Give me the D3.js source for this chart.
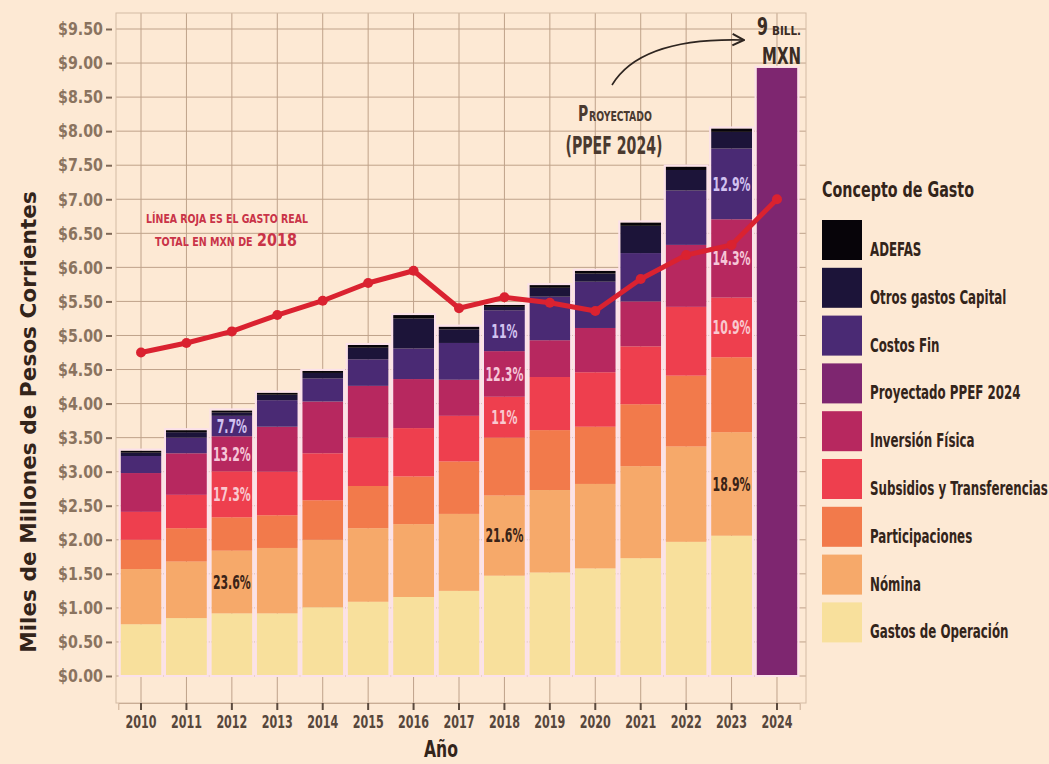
<!DOCTYPE html>
<html lang="es">
<head>
<meta charset="utf-8">
<title>Gasto público por concepto 2010-2024</title>
<script src="https://cdn.jsdelivr.net/npm/d3@7"></script>
<style>
  html, body { margin: 0; padding: 0; background: #fde9d4; }
  svg { display: block; }
</style>
</head>
<body>
<svg id="chart" width="1049" height="764"></svg>
<script>
// Años del eje x
const years = [2010, 2011, 2012, 2013, 2014, 2015, 2016, 2017, 2018, 2019, 2020, 2021, 2022, 2023, 2024];

// Gasto por concepto, miles de millones de pesos corrientes (billones)
const gastosOperacion   = [0.76, 0.85, 0.92, 0.92, 1.01, 1.09, 1.16, 1.25, 1.473, 1.52, 1.58, 1.73, 1.97, 2.06, 0];
const nomina            = [0.81, 0.83, 0.92, 0.96, 0.99, 1.08, 1.07, 1.13, 1.177, 1.21, 1.24, 1.35, 1.40, 1.52, 0];
const participaciones   = [0.43, 0.49, 0.49, 0.48, 0.58, 0.62, 0.70, 0.77, 0.85, 0.88, 0.84, 0.91, 1.04, 1.10, 0];
const subsidios         = [0.41, 0.49, 0.675, 0.64, 0.69, 0.71, 0.71, 0.67, 0.60, 0.78, 0.80, 0.85, 1.01, 0.876, 0];
const inversionFisica   = [0.57, 0.61, 0.515, 0.66, 0.76, 0.76, 0.72, 0.53, 0.67, 0.54, 0.65, 0.66, 0.91, 1.15, 0];
const proyectadoPPEF    = [0, 0, 0, 0, 0, 0, 0, 0, 0, 0, 0, 0, 0, 0, 8.93];
const costosFin         = [0.25, 0.23, 0.30, 0.39, 0.34, 0.39, 0.45, 0.54, 0.60, 0.64, 0.68, 0.71, 0.80, 1.04, 0];
const otrosCapital      = [0.05, 0.08, 0.05, 0.08, 0.08, 0.17, 0.44, 0.20, 0.05, 0.13, 0.12, 0.40, 0.30, 0.244, 0];
const adefas            = [0.03, 0.03, 0.03, 0.03, 0.03, 0.04, 0.05, 0.04, 0.03, 0.04, 0.04, 0.05, 0.05, 0.05, 0];

// Gasto real total en pesos de 2018 (línea roja)
const gastoReal2018 = [4.75, 4.89, 5.06, 5.30, 5.51, 5.77, 5.95, 5.40, 5.56, 5.48, 5.36, 5.83, 6.18, 6.33, 7.00];

// Conceptos, de abajo hacia arriba en la pila
const seriesKeys   = ["op", "nom", "part", "sub", "inv", "proy", "cf", "otros", "adefas"];
const seriesNames  = ["Gastos de Operación", "Nómina", "Participaciones", "Subsidios y Transferencias",
                      "Inversión Física", "Proyectado PPEF 2024", "Costos Fin", "Otros gastos Capital", "ADEFAS"];
const seriesValues = [gastosOperacion, nomina, participaciones, subsidios,
                      inversionFisica, proyectadoPPEF, costosFin, otrosCapital, adefas];
const seriesColors = ["#f8e09c", "#f6a96a", "#f27a4b", "#ee3f4e", "#b7285f", "#7e2670", "#4a2a74", "#1c1439", "#070409"];

// Porcentajes rotulados sobre las barras
const pctYears  = [2012, 2012, 2012, 2012, 2018, 2018, 2018, 2018, 2023, 2023, 2023, 2023];
const pctSeries = ["cf", "inv", "sub", "nom", "cf", "inv", "sub", "nom", "cf", "inv", "sub", "nom"];
const pctText   = ["7.7%", "13.2%", "17.3%", "23.6%", "11%", "12.3%", "11%", "21.6%", "12.9%", "14.3%", "10.9%", "18.9%"];

// Marcas del eje y
const yTicks = d3.range(0, 9.51, 0.5);

const FONT = "'Liberation Sans Narrow','DejaVu Sans Condensed','Roboto Condensed',sans-serif";
const BG = "#fde9d4";

// La tipografía es muy condensada: se estrecha cada texto en horizontal
// alrededor de su punto de anclaje.
function scaleX(node, k) {
  const ax = +node.getAttribute("x") || 0;
  const prev = node.getAttribute("transform") || "";
  node.setAttribute("transform", `${prev} translate(${ax},0) scale(${k},1) translate(${-ax},0)`.trim());
}
function squeeze(sel, k) { sel.each(function () { scaleX(this, k); }); }
function fitWidth(node, width) { scaleX(node, width / node.getComputedTextLength()); }
function factorFor(sel, sampleText, width) {
  const node = sel.filter(function () { return this.textContent === sampleText; }).node() || sel.node();
  return width / node.getComputedTextLength();
}
// Texto en dos partes con tamaños distintos, estrechado como un bloque
function twoPart(parent, cx, baseline, width, a, sizeA, b, sizeB, gap) {
  const g = parent.append("g");
  const t1 = g.append("text").attr("x", 0).attr("y", 0).attr("font-size", sizeA).text(a);
  const w1 = t1.node().getComputedTextLength();
  const t2 = g.append("text").attr("x", w1 + gap).attr("y", 0).attr("font-size", sizeB).text(b);
  const total = w1 + gap + t2.node().getComputedTextLength();
  const k = width / total;
  g.attr("transform", `translate(${cx - width / 2},${baseline}) scale(${k},1)`);
  return g;
}

const svg = d3.select("#chart");
svg.append("rect").attr("width", 1049).attr("height", 764).attr("fill", BG);

// Marco del área de trazado
const frame = { left: 116, right: 806, top: 13, bottom: 703 };

const x = d3.scaleBand()
  .domain(years)
  .range([118.3, 799.7])
  .paddingInner(0.1)
  .paddingOuter(0.05);

const y = d3.scaleLinear().domain([0, 9.5]).range([676, 29]);

// Tabla para d3.stack
const table = years.map((yr, i) => {
  const row = { year: yr };
  seriesKeys.forEach((k, j) => { row[k] = seriesValues[j][i]; });
  return row;
});
const stacked = d3.stack().keys(seriesKeys)(table);
const colorOf = d3.scaleOrdinal().domain(seriesKeys).range(seriesColors);

// Cuadrícula
const grid = svg.append("g").attr("class", "grid");
grid.selectAll("line.h").data(yTicks).join("line")
  .attr("class", "h")
  .attr("x1", frame.left).attr("x2", frame.right)
  .attr("y1", d => y(d)).attr("y2", d => y(d))
  .attr("stroke", "#bfa28a").attr("stroke-width", 1);
grid.selectAll("line.v").data(years).join("line")
  .attr("class", "v")
  .attr("x1", d => x(d) + x.bandwidth() / 2).attr("x2", d => x(d) + x.bandwidth() / 2)
  .attr("y1", frame.top).attr("y2", frame.bottom)
  .attr("stroke", "#bfa28a").attr("stroke-width", 1);
svg.append("rect")
  .attr("x", frame.left).attr("y", frame.top)
  .attr("width", frame.right - frame.left).attr("height", frame.bottom - frame.top)
  .attr("fill", "none").attr("stroke", "#d4bba4").attr("stroke-width", 1);

// Barras apiladas
const bars = svg.append("g").attr("class", "bars");
bars.selectAll("g").data(stacked).join("g")
  .attr("fill", d => colorOf(d.key))
  .selectAll("rect").data(d => d.filter(s => s[1] - s[0] > 0)).join("rect")
  .attr("x", d => x(d.data.year))
  .attr("width", x.bandwidth())
  .attr("y", d => y(d[1]))
  .attr("height", d => y(d[0]) - y(d[1]));

// Contorno claro de cada barra
const totals = table.map(r => seriesKeys.reduce((s, k) => s + r[k], 0));
bars.append("g").selectAll("rect").data(years).join("rect")
  .attr("x", d => x(d) - 1)
  .attr("width", x.bandwidth() + 2)
  .attr("y", (d, i) => y(totals[i]) - 1)
  .attr("height", (d, i) => y(0) - y(totals[i]) + 1)
  .attr("fill", "none")
  .attr("stroke", "#fbe1ea")
  .attr("stroke-width", 2);

// Porcentajes sobre las barras
const labelColor = { cf: "#d2c2f0", inv: "#f5c6d8", sub: "#f9c8cf", nom: "#3a2317" };
const pctG = svg.append("g").attr("class", "pct");
pctYears.forEach((yr, i) => {
  const layer = stacked.find(s => s.key === pctSeries[i]);
  const seg = layer[years.indexOf(yr)];
  pctG.append("text")
    .attr("x", x(yr) + x.bandwidth() / 2)
    .attr("y", y((seg[0] + seg[1]) / 2))
    .attr("dy", "0.36em")
    .attr("text-anchor", "middle")
    .attr("font-family", FONT)
    .attr("font-weight", "bold")
    .attr("font-size", 19)
    .attr("fill", labelColor[pctSeries[i]])
    .text(pctText[i]);
});
const pctTexts = pctG.selectAll("text");
squeeze(pctTexts, factorFor(pctTexts, "13.2%", 38));

// Línea roja del gasto real
const line = d3.line()
  .x((d, i) => x(years[i]) + x.bandwidth() / 2)
  .y(d => y(d));
svg.append("path")
  .datum(gastoReal2018)
  .attr("d", line)
  .attr("fill", "none")
  .attr("stroke", "#da2230")
  .attr("stroke-width", 5)
  .attr("stroke-linejoin", "round");
svg.append("g").selectAll("circle").data(gastoReal2018).join("circle")
  .attr("cx", (d, i) => x(years[i]) + x.bandwidth() / 2)
  .attr("cy", d => y(d))
  .attr("r", 5)
  .attr("fill", "#da2230");

// Eje y
const yAxis = svg.append("g")
  .attr("transform", "translate(112,0)")
  .call(d3.axisLeft(y).tickValues(yTicks).tickFormat(d3.format("$.2f")).tickSize(6).tickPadding(3));
yAxis.select(".domain").remove();
yAxis.selectAll(".tick line").attr("stroke", "#7e6857").attr("stroke-width", 2);
const yLabels = yAxis.selectAll(".tick text")
  .attr("font-family", FONT).attr("font-size", 18).attr("font-weight", "bold")
  .attr("fill", "#8a735f");
squeeze(yLabels, factorFor(yLabels, "$9.50", 45));

// Eje x
const xAxis = svg.append("g")
  .attr("transform", `translate(0,${frame.bottom})`)
  .call(d3.axisBottom(x).tickSize(7).tickPadding(5));
xAxis.select(".domain").attr("stroke", "#c9ad95");
xAxis.selectAll(".tick line").attr("stroke", "#5b4a3e").attr("stroke-width", 2);
const xLabels = xAxis.selectAll(".tick text")
  .attr("font-family", FONT).attr("font-size", 18).attr("font-weight", "bold")
  .attr("fill", "#56463b");
squeeze(xLabels, factorFor(xLabels, "2010", 31));

// Títulos de ejes
const xTitle = svg.append("text")
  .attr("x", 441).attr("y", 757)
  .attr("text-anchor", "middle")
  .attr("font-family", FONT).attr("font-weight", "bold").attr("font-size", 23)
  .attr("fill", "#33241a")
  .text("Año");
fitWidth(xTitle.node(), 34);
const yTitle = svg.append("text")
  .attr("transform", "translate(36,422) rotate(-90)")
  .attr("text-anchor", "middle")
  .attr("font-family", FONT).attr("font-weight", "bold").attr("font-size", 22)
  .attr("fill", "#33241a")
  .text("Miles de Millones de Pesos Corrientes");
fitWidth(yTitle.node(), 462);

// Nota de la línea roja
const note = svg.append("g")
  .attr("font-family", FONT).attr("font-weight", "bold").attr("fill", "#c93448");
const note1 = note.append("text").attr("x", 227).attr("y", 223).attr("font-size", 12)
  .attr("text-anchor", "middle")
  .text("LÍNEA ROJA ES EL GASTO REAL");
fitWidth(note1.node(), 162);
twoPart(note, 226, 246, 142, "TOTAL EN MXN DE", 12, "2018", 18, 5);

// Anotación del proyectado
const proj = svg.append("g")
  .attr("font-family", FONT).attr("font-weight", "bold").attr("fill", "#4a3a30");
twoPart(proj, 615, 121, 74, "P", 21, "ROYECTADO", 14, 1);
const ppef = proj.append("text").attr("x", 614).attr("y", 154).attr("font-size", 24)
  .attr("text-anchor", "middle")
  .text("(PPEF 2024)");
fitWidth(ppef.node(), 97);

// Flecha curva hacia la barra de 2024
svg.append("defs").append("marker")
  .attr("id", "arrowhead")
  .attr("viewBox", "0 0 10 10").attr("refX", 9).attr("refY", 5)
  .attr("markerWidth", 9).attr("markerHeight", 9)
  .attr("orient", "auto")
  .append("path").attr("d", "M1,1 L9,5 L1,9").attr("fill", "none")
  .attr("stroke", "#2e2520").attr("stroke-width", 1.4);
svg.append("path")
  .attr("d", "M612,85 C630,55 670,38 744,40")
  .attr("fill", "none").attr("stroke", "#2e2520").attr("stroke-width", 1.6)
  .attr("marker-end", "url(#arrowhead)");

// Rótulo del total proyectado
const big = svg.append("g")
  .attr("font-family", FONT).attr("font-weight", "bold").attr("fill", "#3a2c24");
const nine = big.append("text").attr("x", 757).attr("y", 35).attr("font-size", 25).text("9");
fitWidth(nine.node(), 11);
const bill = big.append("text").attr("x", 772).attr("y", 35).attr("font-size", 12).text("BILL.");
fitWidth(bill.node(), 29);
const mxn = big.append("text").attr("x", 762).attr("y", 64).attr("font-size", 23).text("MXN");
fitWidth(mxn.node(), 39);

// Leyenda
const legend = svg.append("g").attr("transform", "translate(822,0)");
const legendTitle = legend.append("text")
  .attr("x", 0).attr("y", 197)
  .attr("font-family", FONT).attr("font-weight", "bold").attr("font-size", 22)
  .attr("fill", "#33241a")
  .text("Concepto de Gasto");
fitWidth(legendTitle.node(), 152);
const legendOrder = seriesKeys.slice().reverse();
const legendItems = legend.selectAll("g.item").data(legendOrder).join("g")
  .attr("class", "item")
  .attr("transform", (d, i) => `translate(0,${220 + i * 47.8})`);
legendItems.append("rect")
  .attr("width", 40).attr("height", 40)
  .attr("fill", d => colorOf(d));
const legendTexts = legendItems.append("text")
  .attr("x", 48).attr("y", 36)
  .attr("font-family", FONT).attr("font-weight", "bold").attr("font-size", 19)
  .attr("fill", "#33241a")
  .text(d => seriesNames[seriesKeys.indexOf(d)]);
squeeze(legendTexts, factorFor(legendTexts, "Subsidios y Transferencias", 178));
</script>
</body>
</html>
